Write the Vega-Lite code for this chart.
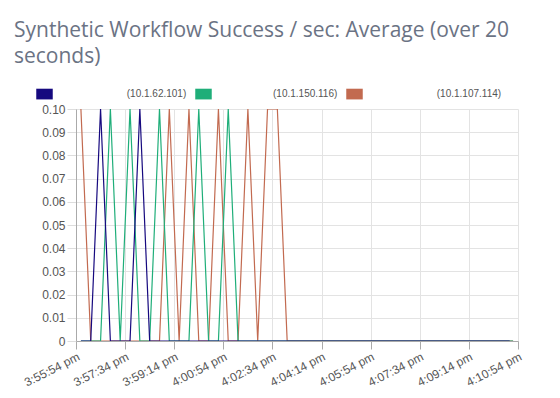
{
  "$schema": "https://vega.github.io/schema/vega-lite/v6.json",
  "autosize": {"type": "none"},
  "width": 442,
  "height": 232,
  "padding": {"left": 76, "top": 109, "right": 42, "bottom": 57},
  "background": "white",
  "title": {
    "text": ["Synthetic Workflow Success / sec: Average (over 20", "seconds)"],
    "anchor": "start",
    "frame": "group",
    "dx": -62,
    "offset": 19,
    "font": "Open Sans",
    "fontSize": 21,
    "fontWeight": "normal",
    "color": "#6b7384",
    "lineHeight": 26
  },
  "data": {"values": [
    {"t":"2024-01-01T15:56:04","host":"10.1.107.114","v":0.1},
    {"t":"2024-01-01T15:56:24","host":"10.1.107.114","v":0},
    {"t":"2024-01-01T15:56:44","host":"10.1.107.114","v":0},
    {"t":"2024-01-01T15:57:04","host":"10.1.107.114","v":0},
    {"t":"2024-01-01T15:57:24","host":"10.1.107.114","v":0},
    {"t":"2024-01-01T15:57:44","host":"10.1.107.114","v":0},
    {"t":"2024-01-01T15:58:04","host":"10.1.107.114","v":0},
    {"t":"2024-01-01T15:58:24","host":"10.1.107.114","v":0},
    {"t":"2024-01-01T15:58:44","host":"10.1.107.114","v":0},
    {"t":"2024-01-01T15:59:04","host":"10.1.107.114","v":0.1},
    {"t":"2024-01-01T15:59:24","host":"10.1.107.114","v":0},
    {"t":"2024-01-01T15:59:44","host":"10.1.107.114","v":0.1},
    {"t":"2024-01-01T16:00:04","host":"10.1.107.114","v":0},
    {"t":"2024-01-01T16:00:24","host":"10.1.107.114","v":0},
    {"t":"2024-01-01T16:00:44","host":"10.1.107.114","v":0.1},
    {"t":"2024-01-01T16:01:04","host":"10.1.107.114","v":0},
    {"t":"2024-01-01T16:01:24","host":"10.1.107.114","v":0},
    {"t":"2024-01-01T16:01:44","host":"10.1.107.114","v":0.1},
    {"t":"2024-01-01T16:02:04","host":"10.1.107.114","v":0},
    {"t":"2024-01-01T16:02:24","host":"10.1.107.114","v":0.1},
    {"t":"2024-01-01T16:02:44","host":"10.1.107.114","v":0.1},
    {"t":"2024-01-01T16:03:04","host":"10.1.107.114","v":0},
    {"t":"2024-01-01T16:03:24","host":"10.1.107.114","v":0},
    {"t":"2024-01-01T16:03:44","host":"10.1.107.114","v":0},
    {"t":"2024-01-01T16:04:04","host":"10.1.107.114","v":0},
    {"t":"2024-01-01T16:04:24","host":"10.1.107.114","v":0},
    {"t":"2024-01-01T16:04:44","host":"10.1.107.114","v":0},
    {"t":"2024-01-01T16:05:04","host":"10.1.107.114","v":0},
    {"t":"2024-01-01T16:05:24","host":"10.1.107.114","v":0},
    {"t":"2024-01-01T16:05:44","host":"10.1.107.114","v":0},
    {"t":"2024-01-01T16:06:04","host":"10.1.107.114","v":0},
    {"t":"2024-01-01T16:06:24","host":"10.1.107.114","v":0},
    {"t":"2024-01-01T16:06:44","host":"10.1.107.114","v":0},
    {"t":"2024-01-01T16:07:04","host":"10.1.107.114","v":0},
    {"t":"2024-01-01T16:07:24","host":"10.1.107.114","v":0},
    {"t":"2024-01-01T16:07:44","host":"10.1.107.114","v":0},
    {"t":"2024-01-01T16:08:04","host":"10.1.107.114","v":0},
    {"t":"2024-01-01T16:08:24","host":"10.1.107.114","v":0},
    {"t":"2024-01-01T16:08:44","host":"10.1.107.114","v":0},
    {"t":"2024-01-01T16:09:04","host":"10.1.107.114","v":0},
    {"t":"2024-01-01T16:09:24","host":"10.1.107.114","v":0},
    {"t":"2024-01-01T16:09:44","host":"10.1.107.114","v":0},
    {"t":"2024-01-01T16:10:04","host":"10.1.107.114","v":0},
    {"t":"2024-01-01T16:10:24","host":"10.1.107.114","v":0},
    {"t":"2024-01-01T16:10:44","host":"10.1.107.114","v":0},

    {"t":"2024-01-01T15:56:04","host":"10.1.150.116","v":0},
    {"t":"2024-01-01T15:56:24","host":"10.1.150.116","v":0},
    {"t":"2024-01-01T15:56:44","host":"10.1.150.116","v":0},
    {"t":"2024-01-01T15:57:04","host":"10.1.150.116","v":0.1},
    {"t":"2024-01-01T15:57:24","host":"10.1.150.116","v":0},
    {"t":"2024-01-01T15:57:44","host":"10.1.150.116","v":0.1},
    {"t":"2024-01-01T15:58:04","host":"10.1.150.116","v":0},
    {"t":"2024-01-01T15:58:24","host":"10.1.150.116","v":0},
    {"t":"2024-01-01T15:58:44","host":"10.1.150.116","v":0.1},
    {"t":"2024-01-01T15:59:04","host":"10.1.150.116","v":0},
    {"t":"2024-01-01T15:59:24","host":"10.1.150.116","v":0},
    {"t":"2024-01-01T15:59:44","host":"10.1.150.116","v":0},
    {"t":"2024-01-01T16:00:04","host":"10.1.150.116","v":0.1},
    {"t":"2024-01-01T16:00:24","host":"10.1.150.116","v":0},
    {"t":"2024-01-01T16:00:44","host":"10.1.150.116","v":0},
    {"t":"2024-01-01T16:01:04","host":"10.1.150.116","v":0.1},
    {"t":"2024-01-01T16:01:24","host":"10.1.150.116","v":0},
    {"t":"2024-01-01T16:01:44","host":"10.1.150.116","v":0},
    {"t":"2024-01-01T16:02:04","host":"10.1.150.116","v":0},
    {"t":"2024-01-01T16:02:24","host":"10.1.150.116","v":0},
    {"t":"2024-01-01T16:02:44","host":"10.1.150.116","v":0},
    {"t":"2024-01-01T16:03:04","host":"10.1.150.116","v":0},
    {"t":"2024-01-01T16:03:24","host":"10.1.150.116","v":0},
    {"t":"2024-01-01T16:03:44","host":"10.1.150.116","v":0},
    {"t":"2024-01-01T16:04:04","host":"10.1.150.116","v":0},
    {"t":"2024-01-01T16:04:24","host":"10.1.150.116","v":0},
    {"t":"2024-01-01T16:04:44","host":"10.1.150.116","v":0},
    {"t":"2024-01-01T16:05:04","host":"10.1.150.116","v":0},
    {"t":"2024-01-01T16:05:24","host":"10.1.150.116","v":0},
    {"t":"2024-01-01T16:05:44","host":"10.1.150.116","v":0},
    {"t":"2024-01-01T16:06:04","host":"10.1.150.116","v":0},
    {"t":"2024-01-01T16:06:24","host":"10.1.150.116","v":0},
    {"t":"2024-01-01T16:06:44","host":"10.1.150.116","v":0},
    {"t":"2024-01-01T16:07:04","host":"10.1.150.116","v":0},
    {"t":"2024-01-01T16:07:24","host":"10.1.150.116","v":0},
    {"t":"2024-01-01T16:07:44","host":"10.1.150.116","v":0},
    {"t":"2024-01-01T16:08:04","host":"10.1.150.116","v":0},
    {"t":"2024-01-01T16:08:24","host":"10.1.150.116","v":0},
    {"t":"2024-01-01T16:08:44","host":"10.1.150.116","v":0},
    {"t":"2024-01-01T16:09:04","host":"10.1.150.116","v":0},
    {"t":"2024-01-01T16:09:24","host":"10.1.150.116","v":0},
    {"t":"2024-01-01T16:09:44","host":"10.1.150.116","v":0},
    {"t":"2024-01-01T16:10:04","host":"10.1.150.116","v":0},
    {"t":"2024-01-01T16:10:24","host":"10.1.150.116","v":0},
    {"t":"2024-01-01T16:10:44","host":"10.1.150.116","v":0},

    {"t":"2024-01-01T15:56:04","host":"10.1.62.101","v":0},
    {"t":"2024-01-01T15:56:24","host":"10.1.62.101","v":0},
    {"t":"2024-01-01T15:56:44","host":"10.1.62.101","v":0.1},
    {"t":"2024-01-01T15:57:04","host":"10.1.62.101","v":0},
    {"t":"2024-01-01T15:57:24","host":"10.1.62.101","v":0},
    {"t":"2024-01-01T15:57:44","host":"10.1.62.101","v":0},
    {"t":"2024-01-01T15:58:04","host":"10.1.62.101","v":0.1},
    {"t":"2024-01-01T15:58:24","host":"10.1.62.101","v":0},
    {"t":"2024-01-01T15:58:44","host":"10.1.62.101","v":0},
    {"t":"2024-01-01T15:59:04","host":"10.1.62.101","v":0},
    {"t":"2024-01-01T15:59:24","host":"10.1.62.101","v":0},
    {"t":"2024-01-01T15:59:44","host":"10.1.62.101","v":0},
    {"t":"2024-01-01T16:00:04","host":"10.1.62.101","v":0},
    {"t":"2024-01-01T16:00:24","host":"10.1.62.101","v":0},
    {"t":"2024-01-01T16:00:44","host":"10.1.62.101","v":0},
    {"t":"2024-01-01T16:01:04","host":"10.1.62.101","v":0},
    {"t":"2024-01-01T16:01:24","host":"10.1.62.101","v":0},
    {"t":"2024-01-01T16:01:44","host":"10.1.62.101","v":0},
    {"t":"2024-01-01T16:02:04","host":"10.1.62.101","v":0},
    {"t":"2024-01-01T16:02:24","host":"10.1.62.101","v":0},
    {"t":"2024-01-01T16:02:44","host":"10.1.62.101","v":0},
    {"t":"2024-01-01T16:03:04","host":"10.1.62.101","v":0},
    {"t":"2024-01-01T16:03:24","host":"10.1.62.101","v":0},
    {"t":"2024-01-01T16:03:44","host":"10.1.62.101","v":0},
    {"t":"2024-01-01T16:04:04","host":"10.1.62.101","v":0},
    {"t":"2024-01-01T16:04:24","host":"10.1.62.101","v":0},
    {"t":"2024-01-01T16:04:44","host":"10.1.62.101","v":0},
    {"t":"2024-01-01T16:05:04","host":"10.1.62.101","v":0},
    {"t":"2024-01-01T16:05:24","host":"10.1.62.101","v":0},
    {"t":"2024-01-01T16:05:44","host":"10.1.62.101","v":0},
    {"t":"2024-01-01T16:06:04","host":"10.1.62.101","v":0},
    {"t":"2024-01-01T16:06:24","host":"10.1.62.101","v":0},
    {"t":"2024-01-01T16:06:44","host":"10.1.62.101","v":0},
    {"t":"2024-01-01T16:07:04","host":"10.1.62.101","v":0},
    {"t":"2024-01-01T16:07:24","host":"10.1.62.101","v":0},
    {"t":"2024-01-01T16:07:44","host":"10.1.62.101","v":0},
    {"t":"2024-01-01T16:08:04","host":"10.1.62.101","v":0},
    {"t":"2024-01-01T16:08:24","host":"10.1.62.101","v":0},
    {"t":"2024-01-01T16:08:44","host":"10.1.62.101","v":0},
    {"t":"2024-01-01T16:09:04","host":"10.1.62.101","v":0},
    {"t":"2024-01-01T16:09:24","host":"10.1.62.101","v":0},
    {"t":"2024-01-01T16:09:44","host":"10.1.62.101","v":0},
    {"t":"2024-01-01T16:10:04","host":"10.1.62.101","v":0},
    {"t":"2024-01-01T16:10:24","host":"10.1.62.101","v":0},
    {"t":"2024-01-01T16:10:37","host":"10.1.62.101","v":0}
  ]},
  "mark": {"type": "line", "strokeWidth": 1.2, "clip": true},
  "encoding": {
    "x": {
      "field": "t",
      "type": "temporal",
      "scale": {
        "domain": [
          {"year": 2024, "month": 1, "date": 1, "hours": 15, "minutes": 55, "seconds": 54},
          {"year": 2024, "month": 1, "date": 1, "hours": 16, "minutes": 10, "seconds": 54}
        ],
        "nice": false
      },
      "axis": {
        "title": null,
        "values": [
          {"year": 2024, "month": 1, "date": 1, "hours": 15, "minutes": 55, "seconds": 54},
          {"year": 2024, "month": 1, "date": 1, "hours": 15, "minutes": 57, "seconds": 34},
          {"year": 2024, "month": 1, "date": 1, "hours": 15, "minutes": 59, "seconds": 14},
          {"year": 2024, "month": 1, "date": 1, "hours": 16, "minutes": 0, "seconds": 54},
          {"year": 2024, "month": 1, "date": 1, "hours": 16, "minutes": 2, "seconds": 34},
          {"year": 2024, "month": 1, "date": 1, "hours": 16, "minutes": 4, "seconds": 14},
          {"year": 2024, "month": 1, "date": 1, "hours": 16, "minutes": 5, "seconds": 54},
          {"year": 2024, "month": 1, "date": 1, "hours": 16, "minutes": 7, "seconds": 34},
          {"year": 2024, "month": 1, "date": 1, "hours": 16, "minutes": 9, "seconds": 14},
          {"year": 2024, "month": 1, "date": 1, "hours": 16, "minutes": 10, "seconds": 54}
        ],
        "labelExpr": "lower(timeFormat(datum.value, '%-I:%M:%S %p'))",
        "labelAngle": -27,
        "labelFont": "Liberation Sans",
        "labelFontSize": 12,
        "labelColor": "#555555",
        "labelPadding": 2,
        "labelOverlap": false,
        "labelFlush": false,
        "tickSize": 8,
        "tickColor": "#aaaaaa",
        "domainColor": "#aaaaaa",
        "grid": true,
        "gridColor": "#e3e3e3"
      }
    },
    "y": {
      "field": "v",
      "type": "quantitative",
      "scale": {"domain": [0, 0.1], "nice": false},
      "axis": {
        "title": null,
        "values": [0, 0.01, 0.02, 0.03, 0.04, 0.05, 0.06, 0.07, 0.08, 0.09, 0.1],
        "labelExpr": "datum.value == 0 ? '0' : format(datum.value, '.2f')",
        "labelFont": "Liberation Sans",
        "labelFontSize": 12,
        "labelColor": "#555555",
        "labelPadding": 2,
        "tickSize": 9,
        "tickColor": "#dddddd",
        "domainColor": "#aaaaaa",
        "grid": true,
        "gridColor": "#e3e3e3"
      }
    },
    "color": {
      "field": "host",
      "type": "nominal",
      "scale": {
        "domain": ["10.1.62.101", "10.1.150.116", "10.1.107.114"],
        "range": ["#16097f", "#1fae79", "#c26a50"]
      },
      "legend": {
        "title": null,
        "orient": "none",
        "legendX": -40,
        "legendY": -23.5,
        "direction": "horizontal",
        "padding": 0,
        "symbolType": "M-1,-0.65L1,-0.65L1,0.65L-1,0.65Z",
        "symbolSize": 272,
        "symbolStrokeWidth": 0,
        "labelOffset": 61,
        "columnPadding": 8,
        "labelFont": "Liberation Sans",
        "labelFontSize": 10,
        "labelColor": "#555555",
        "labelLimit": 0,
        "labelExpr": "(datum.label == '10.1.150.116' ? '' : '\\u200b\\u2002\\u2002\\u00a0') + '(' + datum.label + ')'",
        "encode": {
          "symbols": {
            "update": {
              "fill": {"scale": "color", "field": "value"},
              "opacity": {"value": 1}
            }
          }
        }
      }
    }
  },
  "config": {
    "view": {"stroke": null}
  }
}
